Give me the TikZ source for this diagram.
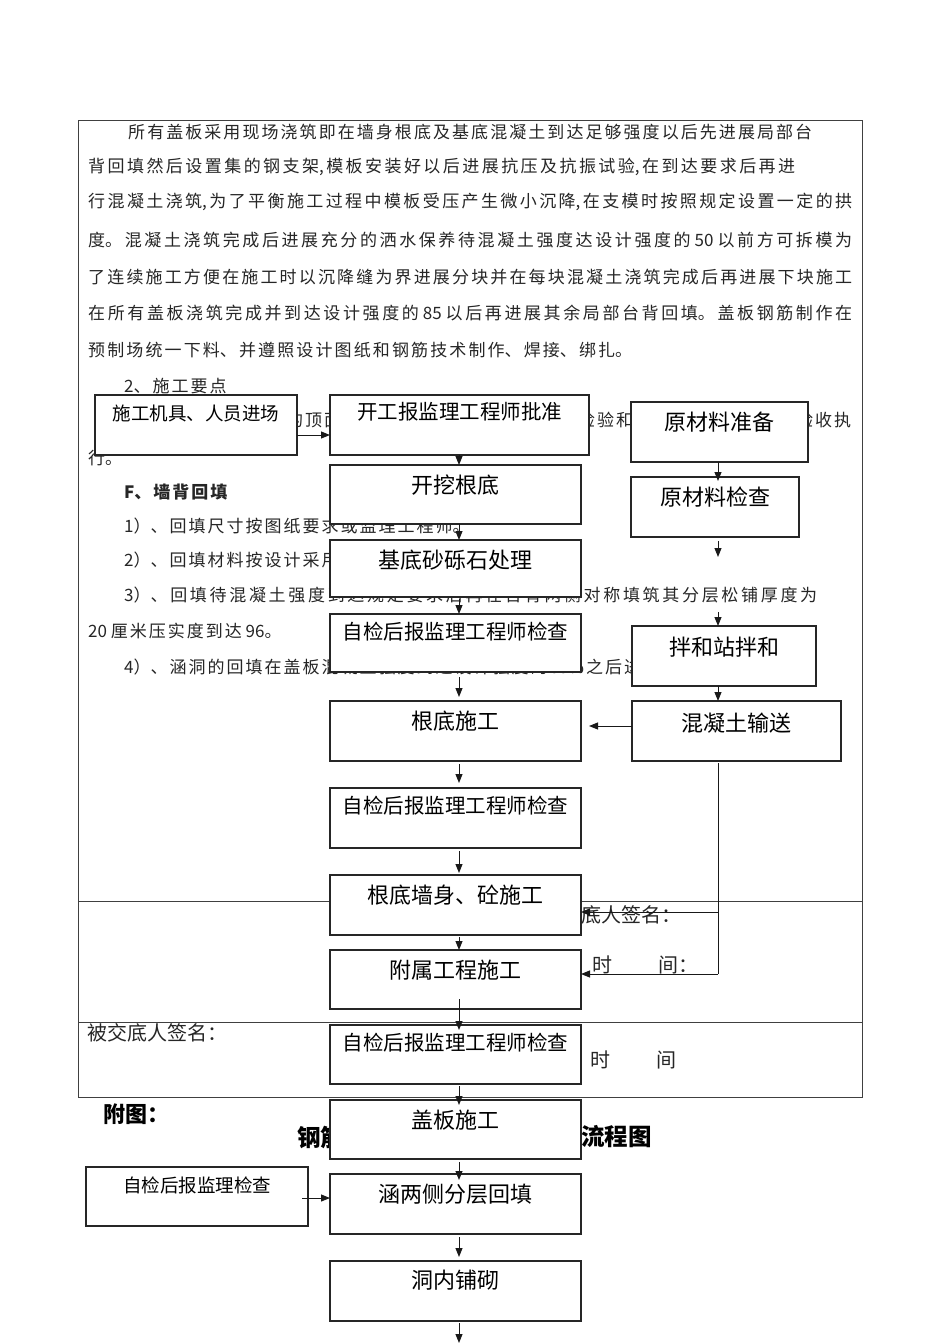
\documentclass[tikz,border=0pt]{standalone}
\usepackage{fontspec}
\setmainfont{Noto Sans CJK SC}
\usetikzlibrary{arrows.meta}
% justified single line of given width
\newcommand{\jl}[2]{\parbox[c]{#1}{\XeTeXlinebreaklocale "zh"\XeTeXlinebreakskip=0pt plus 30pt\relax\tolerance=10000\hbadness=10000\parindent=0pt\parfillskip=0pt\relax #2}}
% natural line with fixed character spacing
\newcommand{\nl}[1]{\parbox[c]{760pt}{\XeTeXlinebreaklocale "zh"\XeTeXlinebreakskip=2pt\relax\parindent=0pt\raggedright #1}}
\begin{document}
\begin{tikzpicture}[x=1pt,y=-1pt,
  fbox/.style={draw=black!85, line width=1.1pt, fill=white, anchor=north west, inner sep=0pt, outer sep=0pt},
  lbig/.style={inner sep=0pt, font=\fontsize{22}{22}\selectfont},
  lmid/.style={inner sep=0pt, font=\fontsize{20.5}{20.5}\selectfont},
  lsml/.style={inner sep=0pt, font=\fontsize{18.5}{18.5}\selectfont},
  ptxt/.style={anchor=west, inner sep=0pt, text=black!85, font=\fontsize{17}{20}\selectfont},
  sig/.style={anchor=west, inner sep=0pt, text=black!85, font=\fontsize{20}{20}\selectfont},
  arr/.style={-{Triangle[length=9pt,width=7pt]}, line width=1pt, draw=black!90},
  tbl/.style={line width=0.9pt, draw=black!75}]

\fill[white] (0,0) rectangle (950,1344);
\useasboundingbox (0,0) rectangle (950,1344);

% table frame
\draw[tbl] (78,120) rectangle (862,1097);
\draw[tbl] (78,901) -- (862,901);
\draw[tbl] (78,1022) -- (862,1022);

% paragraph text
\node[ptxt] (p1) at (128,132) {\jl{684pt}{所有盖板采用现场浇筑即在墙身根底及基底混凝土到达足够强度以后先进展局部台}};
\node[ptxt] (p2) at (88,167) {\jl{707pt}{背回填然后设置集的钢支架,模板安装好以后进展抗压及抗振试验,在到达要求后再进}};
\node[ptxt] (p3) at (88,202) {\jl{764pt}{行混凝土浇筑,为了平衡施工过程中模板受压产生微小沉降,在支模时按照规定设置一定的拱}};
\node[ptxt] (p4) at (88,240) {\jl{764pt}{度。混凝土浇筑完成后进展充分的洒水保养待混凝土强度达设计强度的 50 以前方可拆模为}};
\node[ptxt] (p5) at (88,277) {\jl{764pt}{了连续施工方便在施工时以沉降缝为界进展分块并在每块混凝土浇筑完成后再进展下块施工}};
\node[ptxt] (p6) at (88,313) {\jl{764pt}{在所有盖板浇筑完成并到达设计强度的 85 以后再进展其余局部台背回填。盖板钢筋制作在}};
\node[ptxt] (p7) at (88,350) {\jl{544pt}{预制场统一下料、并遵照设计图纸和钢筋技术制作、焊接、绑扎。}};
\node[ptxt] (p8) at (124,386) {\nl{2、施工要点}};
\node[ptxt] (p9a) at (286,420) {\nl{的顶面}};
\node[ptxt] (p9b) at (578,420) {\nl{检验和}};
\node[ptxt] (p9c) at (796,420) {\nl{验收执}};
\node[ptxt] (p10) at (88,458) {\nl{行。}};
\node[ptxt] (p11) at (124,492) {\nl{\bfseries F、墙背回填}};
\node[ptxt] (p12) at (124,526) {\nl{1）、回填尺寸按图纸要求或监理工程师。}};
\node[ptxt] (p13) at (124,560) {\nl{2）、回填材料按设计采用}};
\node[ptxt] (p14) at (124,595) {\jl{693pt}{3）、回填待混凝土强度到达规定要求后再在台背两侧对称填筑其分层松铺厚度为}};
\node[ptxt] (p15) at (88,631) {\nl{20 厘米压实度到达 96。}};
\node[ptxt] (p16) at (124,667) {\nl{4）、涵洞的回填在盖板混凝土强度到达设计强度的85\%之后进行。}};

% signature texts
\node[sig] (s1) at (561,915) {交底人签名：};
\node[sig] (s2) at (592,965) {时\hspace{46pt}间：};
\node[sig] (s3) at (87,1033) {被交底人签名：};
\node[sig] (s4) at (590,1060) {时\hspace{46pt}间};
\node[anchor=west, inner sep=0pt, font=\fontsize{22}{22}\selectfont\bfseries] (fig) at (103,1114) {附图：};
\node[anchor=west, inner sep=0pt, font=\fontsize{23.5}{23.5}\selectfont\bfseries] (t1) at (297,1137) {钢筋混凝};
\node[anchor=east, inner sep=0pt, font=\fontsize{23.5}{23.5}\selectfont\bfseries] (t2) at (652,1137) {工艺流程图};

% boxes
\node[fbox, minimum width=202pt, minimum height=60pt] (l1) at (95,395) {};
\node[fbox, minimum width=259pt, minimum height=60pt] (b1) at (330,395) {};
\node[fbox, minimum width=251pt, minimum height=59pt] (b2) at (330,465) {};
\node[fbox, minimum width=251pt, minimum height=57pt] (b3) at (330,540) {};
\node[fbox, minimum width=251pt, minimum height=58pt] (b4) at (330,614) {};
\node[fbox, minimum width=251pt, minimum height=60pt] (b5) at (330,701) {};
\node[fbox, minimum width=251pt, minimum height=60pt] (b6) at (330,788) {};
\node[fbox, minimum width=251pt, minimum height=60pt] (b7) at (330,875) {};
\node[fbox, minimum width=251pt, minimum height=59pt] (b8) at (330,950) {};
\node[fbox, minimum width=251pt, minimum height=59pt] (b9) at (330,1025) {};
\node[fbox, minimum width=251pt, minimum height=59pt] (b10) at (330,1100) {};
\node[fbox, minimum width=251pt, minimum height=60pt] (b11) at (330,1174) {};
\node[fbox, minimum width=251pt, minimum height=60pt] (b12) at (330,1261) {};
\node[fbox, minimum width=177pt, minimum height=60pt] (r1) at (631,402) {};
\node[fbox, minimum width=168pt, minimum height=60pt] (r2) at (631,477) {};
\node[fbox, minimum width=184pt, minimum height=60pt] (r3) at (632,626) {};
\node[fbox, minimum width=209pt, minimum height=60pt] (r4) at (632,701) {};
\node[fbox, minimum width=222pt, minimum height=59pt] (l2) at (86,1167) {};

% box labels
\node[lsml] at ([yshift=-18pt]l1.north) {施工机具、人员进场};
\node[lmid] at ([yshift=-17pt]b1.north) {开工报监理工程师批准};
\node[lbig] at ([yshift=-20pt]b2.north) {开挖根底};
\node[lbig] at ([yshift=-20pt]b3.north) {基底砂砾石处理};
\node[lmid] at ([yshift=-18pt]b4.north) {自检后报监理工程师检查};
\node[lbig] at ([yshift=-20pt]b5.north) {根底施工};
\node[lmid] at ([yshift=-18pt]b6.north) {自检后报监理工程师检查};
\node[lbig] at ([yshift=-20pt]b7.north) {根底墙身、砼施工};
\node[lbig] at ([yshift=-20pt]b8.north) {附属工程施工};
\node[lmid] at ([yshift=-18pt]b9.north) {自检后报监理工程师检查};
\node[lbig] at ([yshift=-20pt]b10.north) {盖板施工};
\node[lbig] at ([yshift=-20pt]b11.north) {涵两侧分层回填};
\node[lbig] at ([yshift=-19pt]b12.north) {洞内铺砌};
\node[lbig] at ([yshift=-20pt]r1.north) {原材料准备};
\node[lbig] at ([yshift=-20pt]r2.north) {原材料检查};
\node[lbig] at ([yshift=-21pt]r3.north) {拌和站拌和};
\node[lbig] at ([yshift=-22pt]r4.north) {混凝土输送};
\node[lsml] at ([yshift=-18pt]l2.north) {自检后报监理检查};

% connectors
\coordinate (ax) at (459,0);
\coordinate (rx) at (718,0);
\draw[arr] (b1.south -| ax) -- (b2.north -| ax);
\draw[arr] (b2.south -| ax) -- (b3.north -| ax);
\draw[arr, shorten <=2pt] (b3.south -| ax) -- (b4.north -| ax);
\draw[arr, shorten <=5pt, shorten >=4pt] (b4.south -| ax) -- (b5.north -| ax);
\draw[arr, shorten <=3pt, shorten >=5pt] (b5.south -| ax) -- (b6.north -| ax);
\draw[arr, shorten <=3pt, shorten >=2pt] (b6.south -| ax) -- (b7.north -| ax);
\draw[arr, shorten <=2pt] (b7.south -| ax) -- (b8.north -| ax);
\draw[arr, shorten <=-10pt, shorten >=-5pt] (b8.south -| ax) -- (b9.north -| ax);
\draw[arr, shorten <=2pt, shorten >=-5pt] (b9.south -| ax) -- (b10.north -| ax);
\draw[arr, shorten <=3pt, shorten >=-6pt] (b10.south -| ax) -- (b11.north -| ax);
\draw[arr, shorten <=3pt, shorten >=4pt] (b11.south -| ax) -- (b12.north -| ax);
\coordinate (endc) at (459,1343);
\draw[arr, shorten <=2pt] (b12.south -| ax) -- (endc);

\coordinate (l1o) at ([yshift=-10pt]l1.east);
\draw[arr] (l1o) -- (l1o -| b1.west);
\coordinate (l2o) at ([yshift=-1.5pt]l2.east);
\draw[arr, shorten <=-6pt] (l2o) -- (l2o -| b11.west);

\draw[arr, shorten >=-4pt] (r1.south -| rx) -- (r2.north -| rx);
\coordinate (r2end) at (718,557);
\draw[arr, shorten <=4pt] (r2.south -| rx) -- (r2end);
\coordinate (r3beg) at (718,612);
\draw[arr] (r3beg) -- (r3.north -| rx);
\draw[arr] (r3.south -| rx) -- (r4.north -| rx);
\coordinate (r4o) at ([yshift=5pt]r4.west);
\draw[arr, shorten >=8pt] (r4o) -- (r4o -| b5.east);
\coordinate (v1) at (718,912);
\coordinate (v2) at (718,974);
\draw[line width=1pt, draw=black!90, shorten <=2pt] (r4.south -| rx) -- (v2);
\draw[arr] (v1) -- (b7.east |- v1);
\draw[arr] (v2) -- (b8.east |- v2);
\end{tikzpicture}
\end{document}
